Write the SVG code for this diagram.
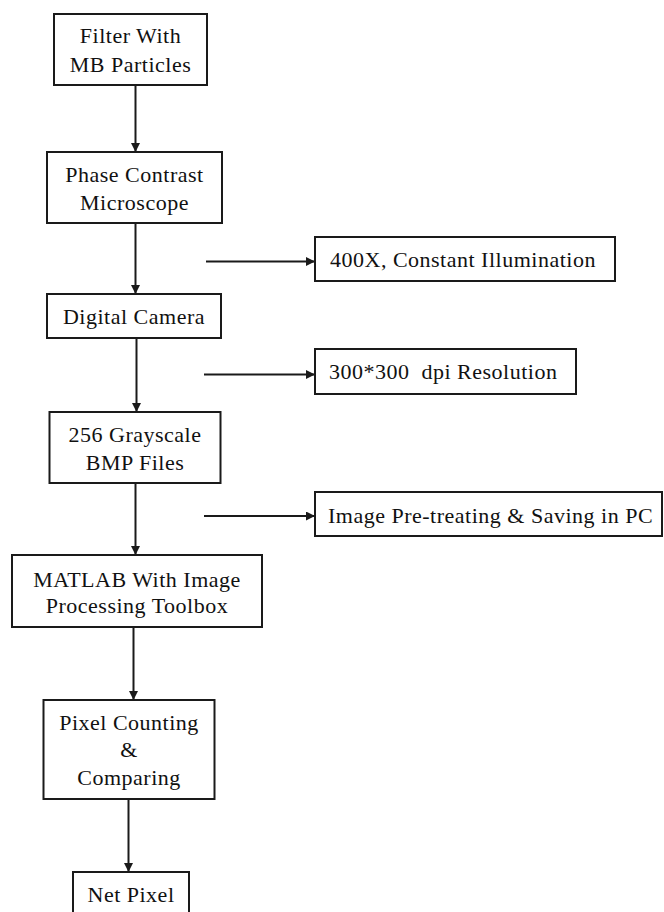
<svg xmlns="http://www.w3.org/2000/svg" width="664" height="912" viewBox="0 0 664 912">
<defs>
<style>
.box{fill:#fff;stroke:#1a1a1a;stroke-width:2}
.t{font-family:'Liberation Serif','DejaVu Serif',serif;font-size:22px;letter-spacing:0.5px;fill:#111}
.c{text-anchor:middle}
.ln{stroke:#1a1a1a;stroke-width:2;fill:none}
</style>
<marker id="ah" viewBox="0 0 10 10" refX="10" refY="5" markerWidth="9" markerHeight="9" markerUnits="userSpaceOnUse" orient="auto">
<path d="M0,0 L10,5 L0,10 Z" fill="#1a1a1a"/>
</marker>
</defs>
<rect width="664" height="912" fill="#fff"/>
<g id="connectors">
<line class="ln" x1="135.5" y1="85" x2="135.5" y2="152" marker-end="url(#ah)"/>
<line class="ln" x1="135.5" y1="223" x2="135.5" y2="294" marker-end="url(#ah)"/>
<line class="ln" x1="136.5" y1="338" x2="136.5" y2="412" marker-end="url(#ah)"/>
<line class="ln" x1="135.5" y1="483" x2="135.5" y2="555" marker-end="url(#ah)"/>
<line class="ln" x1="133.5" y1="627" x2="133.5" y2="700" marker-end="url(#ah)"/>
<line class="ln" x1="128.5" y1="799" x2="128.5" y2="872" marker-end="url(#ah)"/>
<line class="ln" x1="206" y1="261.5" x2="315" y2="261.5" marker-end="url(#ah)"/>
<line class="ln" x1="204" y1="374.5" x2="315" y2="374.5" marker-end="url(#ah)"/>
<line class="ln" x1="204" y1="516" x2="315" y2="516" marker-end="url(#ah)"/>
</g>
<g id="n1"><rect class="box" x="54" y="14" width="153" height="71"/>
<text class="t c" x="130.5" y="43">Filter With</text><text class="t c" x="130.5" y="72">MB Particles</text></g>
<g id="n2"><rect class="box" x="47" y="152" width="175" height="71"/>
<text class="t c" x="134.5" y="182">Phase Contrast</text><text class="t c" x="134.5" y="210">Microscope</text></g>
<g id="n3"><rect class="box" x="47" y="294" width="174" height="44"/>
<text class="t c" x="134" y="324">Digital Camera</text></g>
<g id="n4"><rect class="box" x="49.5" y="412" width="171" height="71"/>
<text class="t c" x="135" y="442">256 Grayscale</text><text class="t c" x="135" y="470">BMP Files</text></g>
<g id="n5"><rect class="box" x="12" y="555" width="250" height="72"/>
<text class="t c" x="137" y="587">MATLAB With Image</text><text class="t c" x="137" y="613">Processing Toolbox</text></g>
<g id="n6"><rect class="box" x="43.5" y="700" width="171" height="99"/>
<text class="t c" x="129" y="730">Pixel Counting</text><text class="t c" x="129" y="757">&amp;</text><text class="t c" x="129" y="785">Comparing</text></g>
<g id="n7"><rect class="box" x="73" y="872" width="116" height="50"/>
<text class="t c" x="131" y="902">Net Pixel</text></g>
<g id="s1"><rect class="box" x="315" y="237" width="300" height="44"/>
<text class="t" x="330" y="267">400X, Constant Illumination</text></g>
<g id="s2"><rect class="box" x="315" y="349" width="261" height="45"/>
<text class="t" x="329" y="379" xml:space="preserve">300*300  dpi Resolution</text></g>
<g id="s3"><rect class="box" x="315" y="492" width="347" height="44"/>
<text class="t" x="328" y="523">Image Pre-treating &amp; Saving in PC</text></g>
</svg>
